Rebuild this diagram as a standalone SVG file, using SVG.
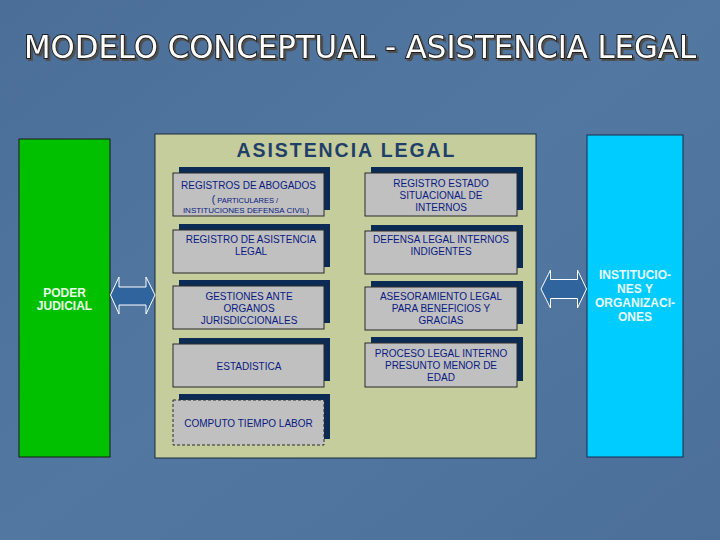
<svg xmlns="http://www.w3.org/2000/svg" width="720" height="540" viewBox="0 0 720 540">
  <defs>
    <linearGradient id="bg" x1="0" y1="0" x2="1" y2="1">
      <stop offset="0" stop-color="#4a6e98"/>
      <stop offset="0.5" stop-color="#5278a2"/>
      <stop offset="1" stop-color="#4b6f98"/>
    </linearGradient>
    <filter id="drop" filterUnits="userSpaceOnUse" x="0" y="0" width="720" height="100">
      <feDropShadow dx="2" dy="2" stdDeviation="0" flood-color="#505050" flood-opacity="1"/>
    </filter>
  </defs>
  <style>
    .title { font-family: "DejaVu Sans Condensed", "Liberation Sans", sans-serif; font-size: 32px; }
    .shadow { fill: #0b2b55; }
    .card { fill: #c0c0c0; stroke: #2a2a2a; stroke-width: 1; }
    .t { font-family: "Liberation Sans", Arial, sans-serif; font-size: 10px; fill: #0a1a80; text-anchor: middle; }
    .small { font-size: 8px; }
    .tiny { font-size: 7.5px; }
    .side { font-family: "Liberation Sans", Arial, sans-serif; font-size: 12px; font-weight: bold; text-anchor: middle; }
    .arrow { fill: #30649c; stroke: #ffffff; stroke-width: 1; }
  </style>
  <rect width="720" height="540" fill="url(#bg)"/>

  <g id="title" filter="url(#drop)">
    <text class="title" x="24" y="58" textLength="672" lengthAdjust="spacingAndGlyphs" fill="#ffffff" stroke="#1e1e1e" stroke-width="1.8" paint-order="stroke">MODELO CONCEPTUAL - ASISTENCIA LEGAL</text>
  </g>

  <g id="poder-judicial">
    <rect x="19" y="139" width="91" height="318" fill="#00c000" stroke="#1a1a1a" stroke-width="1"/>
    <text class="side" x="64.5" y="297" fill="#eaffea">PODER</text>
    <text class="side" x="64.5" y="310" fill="#eaffea">JUDICIAL</text>
  </g>

  <g id="instituciones">
    <rect x="587" y="135" width="96" height="322" fill="#00ccff" stroke="#1a2a4a" stroke-width="1"/>
    <text class="side" x="635" y="278.5" fill="#eafaff">INSTITUCIO-</text>
    <text class="side" x="635" y="292.5" fill="#eafaff">NES Y</text>
    <text class="side" x="635" y="306.5" fill="#eafaff">ORGANIZACI-</text>
    <text class="side" x="635" y="321" fill="#eafaff">ONES</text>
  </g>

  <g id="asistencia-legal">
    <rect x="155" y="134" width="381" height="324" fill="#c6cd9d" stroke="#1a2a3a" stroke-width="1"/>
    <text x="345.5" y="157" font-family="Liberation Sans, Arial, sans-serif" font-size="19.5" font-weight="bold" fill="#1f3f68" text-anchor="middle" textLength="218" lengthAdjust="spacing">ASISTENCIA LEGAL</text>
  </g>

  <g id="registros-abogados">
    <rect class="shadow" x="179" y="167" width="151" height="43"/>
    <rect class="card" x="173" y="173" width="151" height="43"/>
    <text class="t" x="248.5" y="189">REGISTROS DE ABOGADOS</text>
    <text class="t" x="245" y="203">(<tspan class="tiny"> PARTICULARES /</tspan></text>
    <text class="t small" x="246" y="213">INSTITUCIONES DEFENSA CIVIL)</text>
  </g>

  <g id="registro-estado">
    <rect class="shadow" x="371" y="167" width="152" height="43"/>
    <rect class="card" x="365" y="173" width="152" height="43"/>
    <text class="t" x="441" y="187">REGISTRO ESTADO</text>
    <text class="t" x="441" y="199">SITUACIONAL DE</text>
    <text class="t" x="441" y="211">INTERNOS</text>
  </g>

  <g id="registro-asistencia">
    <rect class="shadow" x="179" y="224" width="151" height="43"/>
    <rect class="card" x="173" y="230" width="151" height="43"/>
    <text class="t" x="251" y="243">REGISTRO DE ASISTENCIA</text>
    <text class="t" x="251" y="255">LEGAL</text>
  </g>

  <g id="defensa-legal">
    <rect class="shadow" x="371" y="225" width="152" height="43"/>
    <rect class="card" x="365" y="231" width="152" height="43"/>
    <text class="t" x="441" y="243">DEFENSA LEGAL INTERNOS</text>
    <text class="t" x="441" y="255">INDIGENTES</text>
  </g>

  <g id="gestiones">
    <rect class="shadow" x="179" y="280" width="151" height="43"/>
    <rect class="card" x="173" y="286" width="151" height="43"/>
    <text class="t" x="249" y="300">GESTIONES ANTE</text>
    <text class="t" x="249" y="312">ORGANOS</text>
    <text class="t" x="249" y="324">JURISDICCIONALES</text>
  </g>

  <g id="asesoramiento">
    <rect class="shadow" x="371" y="281" width="152" height="43"/>
    <rect class="card" x="365" y="287" width="152" height="43"/>
    <text class="t" x="441" y="300">ASESORAMIENTO LEGAL</text>
    <text class="t" x="441" y="312">PARA BENEFICIOS Y</text>
    <text class="t" x="441" y="324">GRACIAS</text>
  </g>

  <g id="estadistica">
    <rect class="shadow" x="179" y="338" width="151" height="43"/>
    <rect class="card" x="173" y="344" width="151" height="43"/>
    <text class="t" x="249" y="370">ESTADISTICA</text>
  </g>

  <g id="proceso-legal">
    <rect class="shadow" x="371" y="337" width="152" height="44"/>
    <rect class="card" x="365" y="343" width="152" height="44"/>
    <text class="t" x="441" y="357">PROCESO LEGAL INTERNO</text>
    <text class="t" x="441" y="369">PRESUNTO MENOR DE</text>
    <text class="t" x="441" y="381">EDAD</text>
  </g>

  <g id="computo">
    <rect class="shadow" x="179" y="394" width="151" height="45"/>
    <rect class="card" x="173" y="400" width="151" height="45" stroke-dasharray="3,2"/>
    <text class="t" x="248.5" y="427">COMPUTO TIEMPO LABOR</text>
  </g>

  <g id="connectors">
    <polygon class="arrow" points="110.5,295 119,277 119,287 146,287 146,277 155,295 146,314 146,305 119,305 119,314"/>
    <polygon class="arrow" points="541,289 550.5,270 550.5,279.5 577.5,279.5 577.5,270 586.5,289 577.5,308 577.5,298.5 550.5,298.5 550.5,308"/>
  </g>
</svg>
